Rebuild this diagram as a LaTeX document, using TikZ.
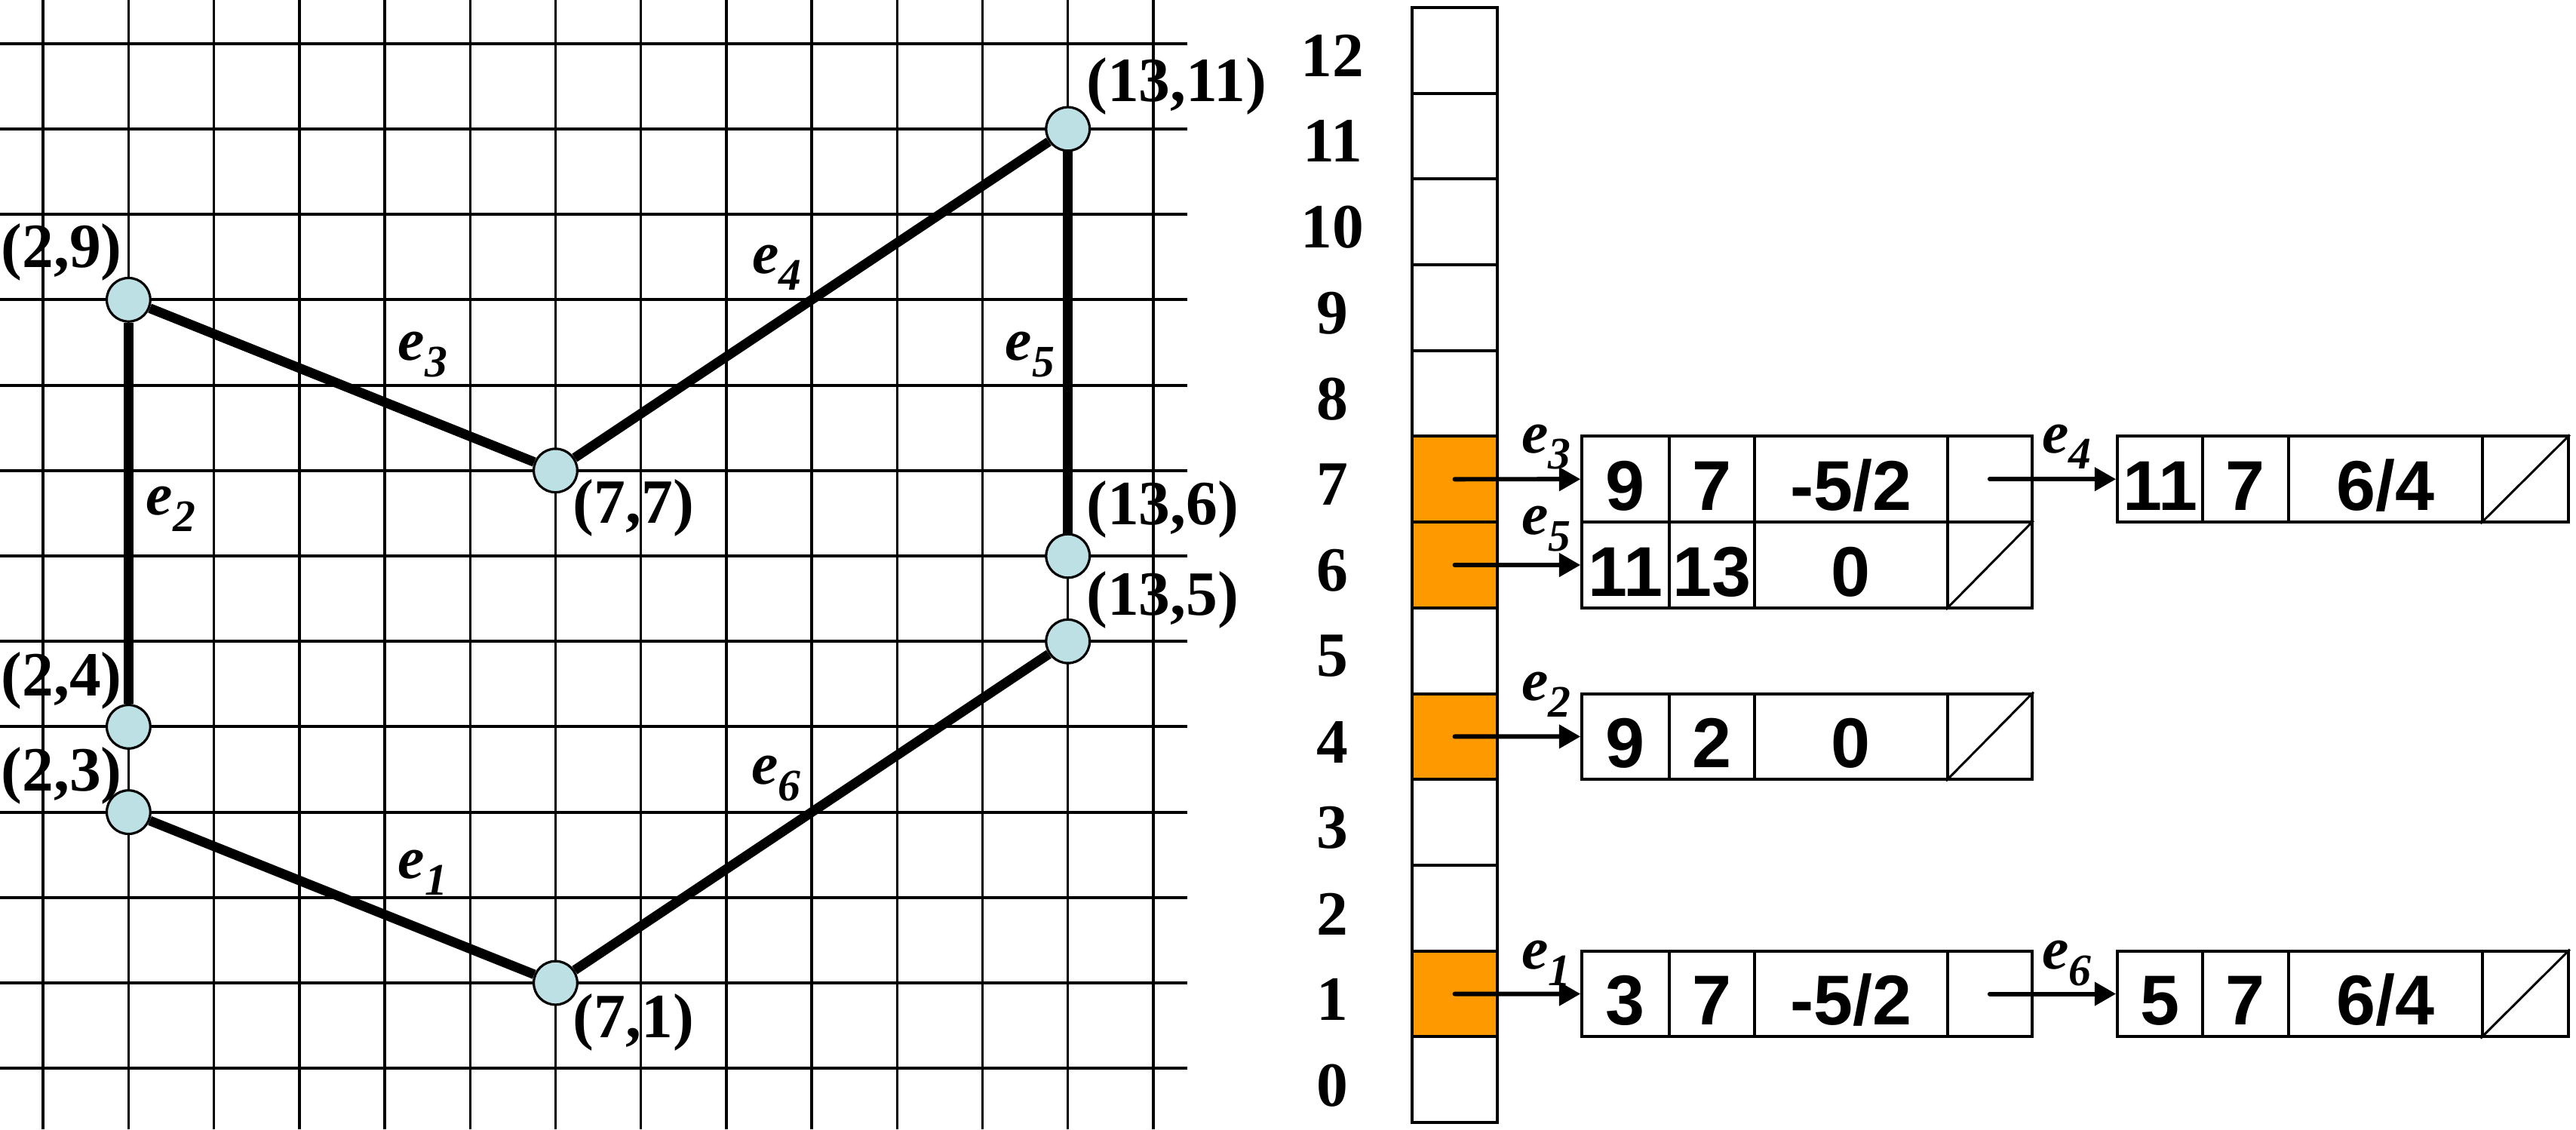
\documentclass[tikz,border=0pt]{standalone}
\usepackage{fontspec}
\setmainfont{Liberation Serif}
\newfontfamily\numfont{Liberation Sans}
\usetikzlibrary{arrows.meta}
\definecolor{vtxfill}{RGB}{189,224,228}
\definecolor{slotfill}{RGB}{255,153,0}
\newcommand{\ename}[1]{\textbf{\textit{e}}\raisebox{-5.5pt}{\fontsize{15}{15}\selectfont\textbf{\textit{#1}}}}
\begin{document}
\begin{tikzpicture}[x=1cm, y=1cm,
	gridh/.style={line width=1pt},
	gridv/.style={line width=0.85pt},
	vtx/.style={circle, draw, line width=0.8pt, fill=vtxfill, minimum size=0.51cm, inner sep=0},
	edge/.style={line width=3.2pt},
	coord/.style={font=\fontsize{21}{21}\selectfont\bfseries, inner sep=0},
	elab/.style={font=\fontsize{20}{20}\selectfont, anchor=base west, inner sep=0},
	rowno/.style={font=\fontsize{21}{21}\selectfont\bfseries, inner sep=0},
	slot/.style={draw, line width=1pt, minimum width=1cm, minimum height=1.0045cm, inner sep=0},
	cell/.style={draw, line width=1pt, minimum height=1.0045cm, inner sep=0, text height=20.8pt, text depth=0pt, font=\numfont\bfseries\fontsize{23.5}{24}\selectfont},
	ptr/.style={-{Triangle[length=0.25cm,width=0.27cm]}, line width=1.5pt, line cap=round},
	nil/.style={line width=0.75pt}]
	\useasboundingbox (0.495,-0.716) rectangle (30.66,12.51);
	% grid
	\foreach \x in {1,...,14} \draw[gridv] (\x,-0.716) -- (\x,12.51);
	\foreach \y in {0,...,12} \draw[gridh] (0.495,\y) -- (14.4,\y);
	% polygon vertices
	\node[vtx] (p29) at (2,9) {};
	\node[vtx] (p24) at (2,4) {};
	\node[vtx] (p23) at (2,3) {};
	\node[vtx] (p77) at (7,7) {};
	\node[vtx] (p71) at (7,1) {};
	\node[vtx] (p1311) at (13,11) {};
	\node[vtx] (p136) at (13,6) {};
	\node[vtx] (p135) at (13,5) {};
	% polygon edges
	\draw[edge] (p23) -- (p71);
	\draw[edge] (p24) -- (p29);
	\draw[edge] (p29) -- (p77);
	\draw[edge] (p77) -- (p1311);
	\draw[edge] (p1311) -- (p136);
	\draw[edge] (p71) -- (p135);
	\node[coord, anchor=east] (l29) at (1.93,9.56) {(2,9)};
	\node[coord, anchor=east] (l24) at (1.93,4.54) {(2,4)};
	\node[coord, anchor=east] (l23) at (1.93,3.43) {(2,3)};
	\node[coord, anchor=west] (l77) at (7.2,6.56) {(7,7)};
	\node[coord, anchor=west] (l71) at (7.2,0.54) {(7,1)};
	\node[coord, anchor=west] (l1311) at (13.21,11.5) {(13,11)};
	\node[coord, anchor=west] (l136) at (13.21,6.54) {(13,6)};
	\node[coord, anchor=west] (l135) at (13.21,5.48) {(13,5)};
	\node[elab] (le1) at (5.15,2.22) {\ename{1}};
	\node[elab] (le2) at (2.2,6.48) {\ename{2}};
	\node[elab] (le3) at (5.15,8.29) {\ename{3}};
	\node[elab] (le4) at (9.3,9.31) {\ename{4}};
	\node[elab] (le5) at (12.26,8.29) {\ename{5}};
	\node[elab] (le6) at (9.29,3.33) {\ename{6}};
	% edge table
	\foreach \k/\c in {0/white,1/slotfill,2/white,3/white,4/slotfill,5/white,6/slotfill,7/slotfill,8/white,9/white,10/white,11/white,12/white} {
		\node[slot, fill=\c] (s\k) at (17.53,{1.0045*\k-0.133}) {};
		\node[rowno] (r\k) at (16.1,{1.005*\k-0.2}) {\k};
	}
	% row 7
	\node[cell, minimum width=1.02cm] (e3a) at (19.53,6.899) {9};
	\node[cell, minimum width=1cm] (e3b) at (20.54,6.899) {7};
	\node[cell, minimum width=2.26cm] (e3c) at (22.17,6.899) {-5/2};
	\node[cell, minimum width=0.99cm] (e3d) at (23.795,6.899) {};
	\node[cell, minimum width=1cm] (e4a) at (25.79,6.899) {11};
	\node[cell, minimum width=1cm] (e4b) at (26.79,6.899) {7};
	\node[cell, minimum width=2.27cm] (e4c) at (28.425,6.899) {6/4};
	\node[cell, minimum width=1.01cm] (e4d) at (30.065,6.899) {};
	% row 6
	\node[cell, minimum width=1.02cm] (e5a) at (19.53,5.894) {11};
	\node[cell, minimum width=1cm] (e5b) at (20.54,5.894) {13};
	\node[cell, minimum width=2.26cm] (e5c) at (22.17,5.894) {0};
	\node[cell, minimum width=0.99cm] (e5d) at (23.795,5.894) {};
	% row 4
	\node[cell, minimum width=1.02cm] (e2a) at (19.53,3.885) {9};
	\node[cell, minimum width=1cm] (e2b) at (20.54,3.885) {2};
	\node[cell, minimum width=2.26cm] (e2c) at (22.17,3.885) {0};
	\node[cell, minimum width=0.99cm] (e2d) at (23.795,3.885) {};
	% row 1
	\node[cell, minimum width=1.02cm] (e1a) at (19.53,0.872) {3};
	\node[cell, minimum width=1cm] (e1b) at (20.54,0.872) {7};
	\node[cell, minimum width=2.26cm] (e1c) at (22.17,0.872) {-5/2};
	\node[cell, minimum width=0.99cm] (e1d) at (23.795,0.872) {};
	\node[cell, minimum width=1cm] (e6a) at (25.79,0.872) {5};
	\node[cell, minimum width=1cm] (e6b) at (26.79,0.872) {7};
	\node[cell, minimum width=2.27cm] (e6c) at (28.425,0.872) {6/4};
	\node[cell, minimum width=1.01cm] (e6d) at (30.065,0.872) {};
	% null links
	\foreach \n in {e4d,e5d,e2d,e6d} \draw[nil] (\n.south west) -- (\n.north east);
	% pointers
	\draw[ptr] (s7.center) -- (e3a.west);
	\draw[ptr] (s6.center) -- (e5a.west);
	\draw[ptr] (s4.center) -- (e2a.west);
	\draw[ptr] (s1.center) -- (e1a.west);
	\draw[ptr] (e3d.center) -- (e4a.west);
	\draw[ptr] (e1d.center) -- (e6a.west);
	\node[elab] (re3) at (18.31,7.21) {\ename{3}};
	\node[elab] (re5) at (18.31,6.25) {\ename{5}};
	\node[elab] (re2) at (18.31,4.31) {\ename{2}};
	\node[elab] (re1) at (18.31,1.16) {\ename{1}};
	\node[elab] (re4) at (24.40,7.21) {\ename{4}};
	\node[elab] (re6) at (24.40,1.16) {\ename{6}};
\end{tikzpicture}
\end{document}
